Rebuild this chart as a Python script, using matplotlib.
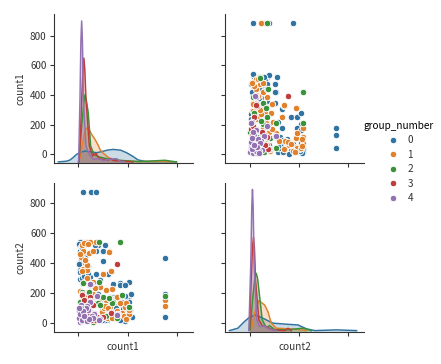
import matplotlib
matplotlib.use('Agg')
import matplotlib.pyplot as plt

plt.rcParams['font.family'] = ['Noto Sans CJK JP', 'DejaVu Sans']

groups = [0, 1, 2, 3, 4]
colors = ['#3274a1', '#e1812c', '#3a923a', '#c03d3e', '#9372b2']

# paired values: count1, count2 for each group_number
g0_count1 = [882, 882, 882, 44, 132, 180, 34, 17, 203, 17, 180, 254, 254, 518, 423, 349, 180, 119,
             220, 254, 518, 440, 355, 524, 524, 457, 338, 254, 305, 220, 119, 51, 17, 30, 65, 100,
             276, 167, 201, 320, 337, 303, 422, 473, 480, 534, 541, 473, 60, 150, 240, 285, 20, 90,
             400, 450, 500, 370, 290, 210, 10, 25, 35, 50, 70, 85, 15, 40, 60, 5, 95, 75, 30, 55,
             470, 500, 430, 380, 490, 450, 520, 350, 300, 410, 475, 330, 150, 250, 270, 200, 320,
             380, 240, 310, 420, 120]
g0_count2 = [435, 190, 35, 877, 877, 877, 542, 542, 520, 480, 480, 478, 416, 275, 264, 259, 326, 304,
             286, 107, 179, 141, 174, 85, 45, 29, 40, 478, 130, 152, 252, 331, 290, 420, 400, 380,
             519, 521, 190, 172, 112, 329, 251, 253, 164, 190, 34, 12, 200, 170, 95, 60, 350, 120,
             110, 95, 60, 70, 20, 30, 530, 510, 500, 460, 440, 360, 340, 300, 310, 395, 335, 525,
             450, 350, 110, 150, 60, 110, 30, 90, 140, 60, 80, 35, 175, 130, 20, 60, 15, 130, 45,
             95, 15, 160, 20, 60]
g1_count1 = [882, 882, 78, 119, 176, 51, 109, 146, 315, 75, 44, 92, 254, 328, 220, 338, 389, 281,
             396, 440, 474, 355, 322, 288, 237, 203, 313, 291, 146, 481, 329, 251, 79, 90, 34, 45,
             90, 20, 60, 150, 180, 260, 40, 55, 25, 65, 85, 15, 100, 70, 420, 460, 510, 510, 370,
             480, 400, 320, 270, 340, 130, 170, 210, 280, 300]
g1_count2 = [150, 110, 542, 542, 542, 469, 469, 480, 478, 413, 357, 353, 324, 349, 237, 223, 174, 152,
             80, 63, 107, 30, 107, 52, 74, 29, 473, 31, 269, 133, 347, 327, 412, 354, 344, 480,
             300, 210, 170, 190, 130, 95, 520, 535, 440, 400, 385, 460, 530, 420, 130, 45, 60, 85,
             40, 25, 60, 60, 110, 30, 150, 230, 160, 220, 100]
g2_count1 = [882, 213, 423, 44, 109, 203, 315, 440, 349, 518, 254, 17, 153, 389, 102, 516, 440, 347,
             253, 313, 208, 39, 105, 224, 120, 60, 280, 30, 170, 90]
g2_count2 = [175, 542, 542, 264, 208, 134, 168, 179, 139, 107, 174, 141, 7, 29, 152, 106, 184, 133,
             38, 167, 269, 208, 92, 116, 70, 105, 45, 100, 60, 30]
g3_count1 = [396, 34, 119, 68, 328, 153, 254, 329, 34, 168, 30, 95, 60, 130, 190, 80]
g3_count2 = [391, 190, 174, 141, 69, 119, 40, 65, 184, 14, 100, 60, 150, 20, 35, 90]
g4_count1 = [125, 186, 119, 68, 17, 159, 389, 220, 17, 68, 391, 213, 190, 161, 123, 67, 27, 123,
             30, 90, 45, 10, 55, 100, 135, 10, 75, 40, 150, 25, 20, 35, 50, 70, 85, 12, 110, 60]
g4_count2 = [259, 179, 145, 85, 47, 63, 58, 25, 7, 29, 51, 14, 177, 58, 140, 92, 41, 262,
             120, 110, 60, 30, 15, 85, 45, 75, 100, 10, 30, 95, 60, 20, 75, 35, 10, 95, 25, 45]
count1 = [g0_count1, g1_count1, g2_count1, g3_count1, g4_count1]
count2 = [g0_count2, g1_count2, g2_count2, g3_count2, g4_count2]

# density curves, heights read against the shared y scale of the row
kde1_x = [
    [-203, -118, -84, -50, -17, 25, 68, 135, 186, 250, 300, 355, 430, 490, 550, 608, 693, 862, 997],
    [0, 20, 40, 60, 75, 99, 135, 170, 203, 220, 253, 321, 422, 591, 879, 963],
    [3, 15, 34, 55, 68, 85, 101, 125, 159, 203, 321, 456, 625, 879, 997],
    [8, 20, 34, 48, 57, 66, 78, 112, 145, 179, 213, 304, 328, 355, 558],
    [3, 17, 26, 34, 42, 51, 78, 112, 152, 203, 253, 314, 389, 422, 473],
]
kde1_y = [
    [-51, -46, -38, -20, 0, 14, 22, 16, 11, 20, 29, 33, 28, 11, -12, -38, -49, -49, -51],
    [-51, -20, 60, 130, 170, 181, 135, 100, 60, 33, 7, -29, -42, -49, -47, -51],
    [-51, 30, 190, 340, 402, 350, 279, 56, 0, -16, -34, -42, -49, -40, -51],
    [-51, 100, 369, 570, 648, 570, 369, 56, -11, 7, -29, -40, -27, -42, -51],
    [-51, 369, 760, 898, 760, 369, 56, 0, -34, -29, -42, -34, -29, -47, -51],
]
kde2_x = [
    [-207, -122, -54, -3, 58, 133, 235, 371, 490, 575, 660, 880, 1085],
    [14, 48, 92, 150, 184, 218, 269, 473, 575],
    [3, 31, 52, 65, 78, 92, 126, 167, 201, 252, 371, 541, 626],
    [-3, 14, 27, 37, 47, 58, 92, 126, 167, 235, 354, 388, 422],
    [-10, 10, 20, 27, 34, 44, 71, 99, 150, 201, 269],
]
kde2_y = [
    [-54, -38, 7, 36, 51, 29, -4, -11, -16, -42, -54, -49, -54],
    [-54, 63, 148, 118, 74, -4, -38, -45, -54],
    [-49, 174, 300, 331, 300, 219, 18, -34, -20, -47, -49, -38, -54],
    [-49, 286, 500, 572, 500, 286, 18, -20, -27, -49, -54, -38, -54],
    [-54, 398, 780, 894, 780, 398, 18, -27, -22, -45, -54],
]

tick_x = [0, 500, 1000]
tick_y = [0, 200, 400, 600, 800]
legend_title = 'group_number'

W, H = 441, 364
fig = plt.figure(figsize=(W / 72, H / 72), dpi=72)


def make_ax(left, right, top, bottom):
    return fig.add_axes([left / W, 1 - bottom / H, (right - left) / W, (bottom - top) / H])


ax11 = make_ax(53.5, 192.5, 14, 162.5)
ax12 = make_ax(225, 364, 14, 162.5)
ax21 = make_ax(53.5, 192.5, 183, 331.5)
ax22 = make_ax(225, 364, 183, 331.5)

for i in range(len(groups)):
    ax11.plot(kde1_x[i], kde1_y[i], color=colors[i], lw=1.5)
    ax11.fill_between(kde1_x[i], kde1_y[i], -55, color=colors[i], alpha=0.25, lw=0)
    ax22.plot(kde2_x[i], kde2_y[i], color=colors[i], lw=1.5)
    ax22.fill_between(kde2_x[i], kde2_y[i], -60, color=colors[i], alpha=0.25, lw=0)
    ax12.scatter(count2[i], count1[i], s=42, color=colors[i], edgecolor='white', linewidth=0.9)
    ax21.scatter(count1[i], count2[i], s=42, color=colors[i], edgecolor='white', linewidth=0.9)

for ax in [ax11, ax12, ax21, ax22]:
    ax.spines['top'].set_visible(False)
    ax.spines['right'].set_visible(False)
    for side in ['left', 'bottom']:
        ax.spines[side].set_linewidth(1.1)
        ax.spines[side].set_color('#333333')
    ax.set_xticks(tick_x)
    ax.set_yticks(tick_y)
    ax.set_xticklabels([])
    ax.tick_params(length=4, width=1.1, color='#333333', labelsize=10, labelcolor='#333333', pad=3)
    ax.set_xlim(-252, 1160)

ax11.set_ylim(-55, 945)
ax12.set_ylim(-55, 945)
ax21.set_ylim(-60, 937)
ax22.set_ylim(-60, 937)
ax12.set_yticklabels([])
ax22.set_yticklabels([])

ax11.set_ylabel('count1', fontsize=10, color='#333333')
ax21.set_ylabel('count2', fontsize=10, color='#333333')
ax21.set_xlabel('count1', fontsize=10, color='#333333')
ax22.set_xlabel('count2', fontsize=10, color='#333333')

handles = [plt.Line2D([], [], marker='o', ls='', ms=6.5, color=c, markeredgecolor='white', markeredgewidth=0.9)
           for c in colors]
fig.legend(handles, [str(g) for g in groups], title=legend_title, frameon=False,
           loc='center left', bbox_to_anchor=(355 / W, 1 - 162 / H), fontsize=10, title_fontsize=10,
           labelspacing=0.45, handlelength=1.6, handletextpad=0.6, borderpad=0.4,
           labelcolor='#333333')

fig.savefig('out.png', dpi=72)
